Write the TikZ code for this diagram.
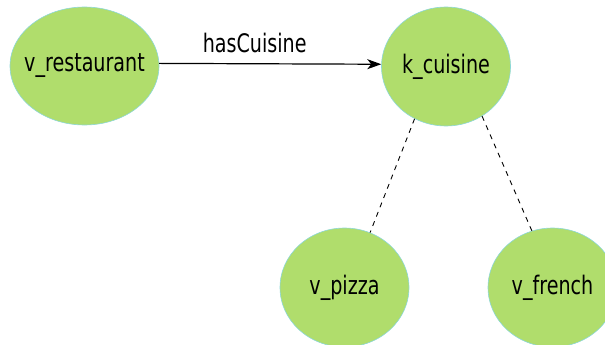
\documentclass[tikz,border=0pt]{standalone}
\usepackage{fontspec}
\setmainfont{DejaVu Sans}
\usetikzlibrary{arrows.meta,shapes.geometric}
\definecolor{nodefill}{RGB}{176,221,108}
\definecolor{nodeline}{RGB}{140,215,215}
\newcommand{\lab}[1]{\scalebox{0.75}[1]{\fontsize{25.5}{25.5}\selectfont #1}}
\newcommand{\nlab}[1]{\makebox[0pt][c]{\lab{#1}}}
\begin{document}
\begin{tikzpicture}[x=1pt,y=-1pt,
  vnode/.style={ellipse, fill=nodefill, draw=nodeline, line width=0.6pt, inner sep=0pt,
    minimum width=129pt, minimum height=119pt},
  rel/.style={draw=black, line width=1.2pt, -{Stealth[length=14pt,width=10pt,inset=4pt]}},
  edgelabel/.style={inner sep=0pt, font=\relax},
  dashline/.style={draw=black, line width=0.9pt, dash pattern=on 5pt off 5pt}]
\useasboundingbox (0,0) rectangle (605,345);
\node[vnode, minimum width=149pt, minimum height=118pt] (rest) at (84.5,66) {\nlab{v\_restaurant}};
\node[vnode] (kc) at (446,66.5) {\nlab{k\_cuisine}};
\node[vnode] (pizza) at (344.5,287.5) {\nlab{v\_pizza}};
\node[vnode] (french) at (552.5,287.5) {\nlab{v\_french}};
\draw[rel] (rest.2) -- (kc.178) node[edgelabel, pos=0.43, above=10pt] (lbl) {\lab{hasCuisine}};
\draw[dashline] (kc.239) -- (pizza.65);
\draw[dashline] (kc.306) -- (french.110);
\end{tikzpicture}
\end{document}
